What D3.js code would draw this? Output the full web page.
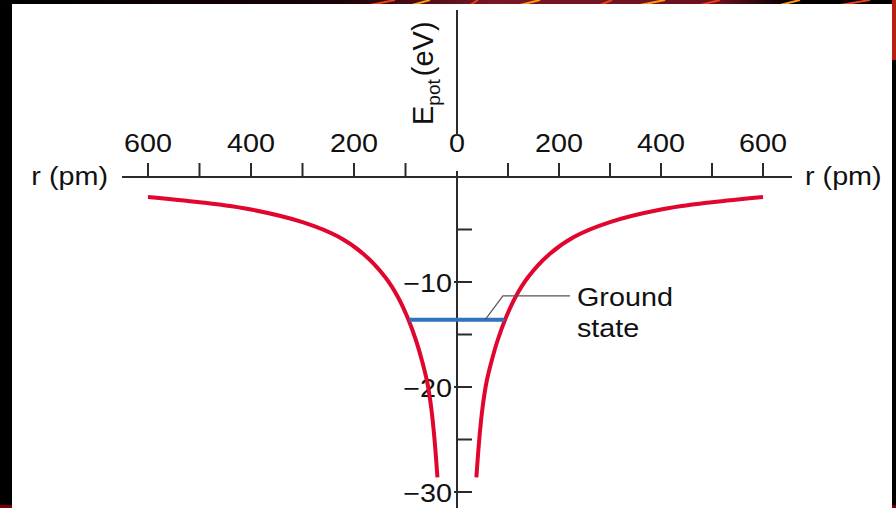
<!DOCTYPE html>
<html>
<head>
<meta charset="utf-8">
<script src="https://cdn.jsdelivr.net/npm/d3@7"></script>
<style>
  html, body { margin: 0; padding: 0; background: #000; }
  svg { display: block; }
  text { font-family: "Liberation Sans", Arial, Helvetica, sans-serif; fill: #111; }
</style>
</head>
<body>
<svg id="chart" width="896" height="508"></svg>
<script>
// Potential energy of the electron in a hydrogen atom vs. distance from the nucleus
const radiusPm   = [600, 500, 400, 300, 230, 180, 140, 115, 95, 80, 68, 58, 50, 44, 38];
const energyEv   = [-1.9, -2.4, -3.1, -4.3, -5.7, -7.4, -9.5, -11.4, -13.5, -15.5, -17.5, -19.5, -22.0, -24.8, -28.6];
const groundState = -13.6;           // eV
const groundStateHalfWidth = 93;     // pm, where the level meets the curve
const xTickValues = [-600, -500, -400, -300, -200, -100, 100, 200, 300, 400, 500, 600];
const xTickLabels = ["600", "400", "200", "0", "200", "400", "600"];
const xLabelValues = [-600, -400, -200, 0, 200, 400, 600];
const yTickValues = [-5, -10, -15, -20, -25, -30];
const yTickLabels = ["−10", "−20", "−30"];
const yLabelValues = [-10, -20, -30];

const svg = d3.select("#chart");
const W = 896, H = 508;

// ---- dark backdrop with a warm streak along the top ----
const defs = svg.append("defs");
const grad = defs.append("linearGradient").attr("id", "topGlow").attr("x1", 0).attr("x2", 1);
grad.append("stop").attr("offset", "0%").attr("stop-color", "#000");
grad.append("stop").attr("offset", "38%").attr("stop-color", "#1a0306");
grad.append("stop").attr("offset", "55%").attr("stop-color", "#7a1626");
grad.append("stop").attr("offset", "80%").attr("stop-color", "#6a1020");
grad.append("stop").attr("offset", "88%").attr("stop-color", "#050000");
grad.append("stop").attr("offset", "100%").attr("stop-color", "#000");
svg.append("rect").attr("width", W).attr("height", H).attr("fill", "#000");
svg.append("rect").attr("x", 0).attr("y", 0).attr("width", W).attr("height", 6).attr("fill", "url(#topGlow)");
const streaks = [[370, 395], [412, 430], [470, 478], [520, 540], [600, 612], [640, 665], [700, 720], [780, 800], [840, 870]];
svg.append("g").selectAll("line").data(streaks).join("line")
  .attr("x1", d => d[0]).attr("x2", d => d[1]).attr("y1", 5).attr("y2", 0)
  .attr("stroke", (d, i) => i % 2 ? "#ff9a10" : "#e8401a").attr("stroke-width", 2);
svg.append("rect").attr("x", 892).attr("y", 0).attr("width", 4).attr("height", 60).attr("fill", "#b8200e");
svg.append("rect").attr("x", 0).attr("y", 505).attr("width", 12).attr("height", 3).attr("fill", "#7a0000");
svg.append("rect").attr("x", 892).attr("y", 505).attr("width", 4).attr("height", 3).attr("fill", "#7a0000");

// white panel
svg.append("rect").attr("x", 12).attr("y", 4).attr("width", 880).attr("height", 504).attr("fill", "#fff");

// ---- scales ----
const x = d3.scaleLinear().domain([-600, 0, 600]).range([148, 457, 763]);
const y = d3.scaleLinear().domain([0, -30]).range([177, 492]);
const x0 = x(0), y0 = y(0);
const axisColor = "#2b2b2b";
const sx = 1.15; // horizontal stretch of the lettering

function label(g, txt, px, py, anchor, size) {
  return g.append("text")
    .attr("transform", `translate(${px},${py}) scale(${sx},1)`)
    .attr("text-anchor", anchor)
    .style("font-size", (size || 25) + "px")
    .text(txt);
}

const axes = svg.append("g");

// horizontal axis
axes.append("line").attr("x1", 122).attr("x2", 792).attr("y1", y0).attr("y2", y0)
  .attr("stroke", axisColor).attr("stroke-width", 2);
axes.selectAll("line.xt").data(xTickValues).join("line").attr("class", "xt")
  .attr("x1", d => x(d)).attr("x2", d => x(d)).attr("y1", y0).attr("y2", y0 - 14)
  .attr("stroke", axisColor).attr("stroke-width", 2);
xLabelValues.forEach((v, i) => label(axes, xTickLabels[i], x(v), 152, "middle"));
label(axes, "r (pm)", 108, 185, "end");
label(axes, "r (pm)", 805, 185, "start");

// vertical axis (broken around the 0 label)
axes.append("line").attr("x1", x0).attr("x2", x0).attr("y1", 10).attr("y2", 136)
  .attr("stroke", axisColor).attr("stroke-width", 2);
axes.append("line").attr("x1", x0).attr("x2", x0).attr("y1", 171).attr("y2", H)
  .attr("stroke", axisColor).attr("stroke-width", 2);
axes.selectAll("line.yt").data(yTickValues).join("line").attr("class", "yt")
  .attr("x1", d => (d % 10 === 0 ? x0 - 3 : x0)).attr("x2", x0 + 15)
  .attr("y1", d => y(d)).attr("y2", d => y(d))
  .attr("stroke", axisColor).attr("stroke-width", 2);
yLabelValues.forEach((v, i) => label(axes, yTickLabels[i], 452, y(v) + 10, "end"));

// rotated axis title E_pot (eV)
const yt = axes.append("text")
  .attr("transform", "translate(433,125) rotate(-90)")
  .attr("text-anchor", "start")
  .style("font-size", "29px");
yt.append("tspan").text("E");
yt.append("tspan").attr("dy", 7).style("font-size", "19px").text("pot");
yt.append("tspan").attr("dy", -7).attr("dx", 3).text("(eV)");

// ---- potential curve, both sides of the nucleus ----
const pts = radiusPm.map((r, i) => ({ r, e: energyEv[i] }));
const line = d3.line().curve(d3.curveCatmullRom.alpha(0.5));
const curves = svg.append("g").attr("fill", "none").attr("stroke", "#e0062e")
  .attr("stroke-width", 4).attr("stroke-linecap", "butt");
curves.append("path").attr("d", line(pts.map(p => [x(-p.r), y(p.e)])));
curves.append("path").attr("d", line(pts.map(p => [x(p.r), y(p.e)])));

// ---- ground-state level ----
svg.append("line")
  .attr("x1", x(-groundStateHalfWidth)).attr("x2", x(groundStateHalfWidth))
  .attr("y1", y(groundState)).attr("y2", y(groundState))
  .attr("stroke", "#2f72bd").attr("stroke-width", 4);

// leader line and its caption
const gy = y(groundState);
svg.append("path")
  .attr("d", `M${x(55)},${gy} L${x(90)},${gy - 24} L570,${gy - 24}`)
  .attr("fill", "none").attr("stroke", "#555").attr("stroke-width", 1.2);
const cap = svg.append("g");
label(cap, "Ground", 577, 306, "start");
label(cap, "state", 577, 337, "start");
</script>
</body>
</html>
